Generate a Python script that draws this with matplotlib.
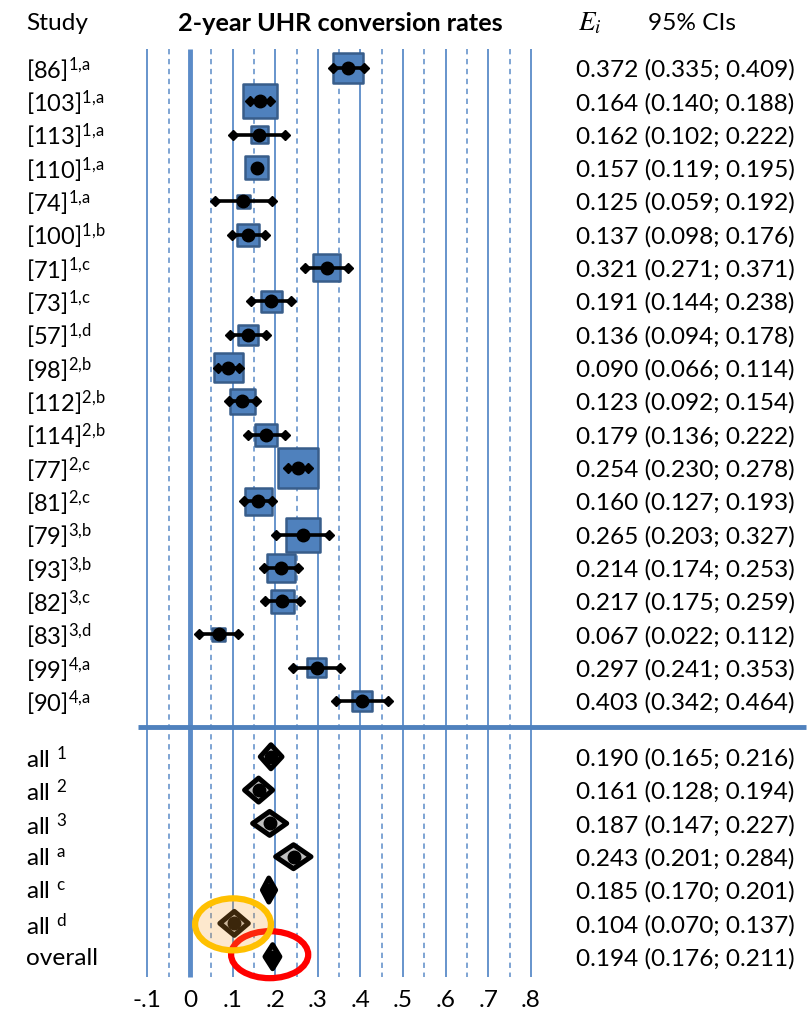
import matplotlib
matplotlib.use("Agg")
import matplotlib.pyplot as plt
from matplotlib.patches import Ellipse, Polygon

plt.rcParams['font.family'] = ['Lato', 'DejaVu Sans']
plt.rcParams['mathtext.fontset'] = 'custom'
plt.rcParams['mathtext.rm'] = 'Lato'
plt.rcParams['mathtext.it'] = 'Lato:italic'
plt.rcParams['mathtext.bf'] = 'Lato:bold'

# ---- individual studies ----
studies = ["[86]", "[103]", "[113]", "[110]", "[74]", "[100]", "[71]", "[73]", "[57]",
           "[98]", "[112]", "[114]", "[77]", "[81]", "[79]", "[93]", "[82]", "[83]",
           "[99]", "[90]"]
study_sup = ["1,a", "1,a", "1,a", "1,a", "1,a", "1,b", "1,c", "1,c", "1,d",
             "2,b", "2,b", "2,b", "2,c", "2,c", "3,b", "3,b", "3,c", "3,d",
             "4,a", "4,a"]
est = [0.372, 0.164, 0.162, 0.157, 0.125, 0.137, 0.321, 0.191, 0.136,
       0.090, 0.123, 0.179, 0.254, 0.160, 0.265, 0.214, 0.217, 0.067,
       0.297, 0.403]
ci_lo = [0.335, 0.140, 0.102, 0.119, 0.059, 0.098, 0.271, 0.144, 0.094,
         0.066, 0.092, 0.136, 0.230, 0.127, 0.203, 0.174, 0.175, 0.022,
         0.241, 0.342]
ci_hi = [0.409, 0.188, 0.222, 0.195, 0.192, 0.176, 0.371, 0.238, 0.178,
         0.114, 0.154, 0.222, 0.278, 0.193, 0.327, 0.253, 0.259, 0.112,
         0.353, 0.464]
# relative study weights (box side)
weight = [30, 34, 17, 23, 13, 22, 27, 21, 20, 29, 25, 22, 40, 27, 34, 28, 23, 13, 19, 20]
# studies whose interval whiskers are drawn
whiskers = [True, True, True, False, True, True, True, True, True, True,
            True, True, True, True, True, True, True, True, True, True]

# ---- pooled estimates ----
pooled_labels = ["all", "all", "all", "all", "all", "all", "overall"]
pooled_sup = ["1", "2", "3", "a", "c", "d", ""]
pooled_est = [0.190, 0.161, 0.187, 0.243, 0.185, 0.104, 0.194]
pooled_lo = [0.165, 0.128, 0.147, 0.201, 0.170, 0.070, 0.176]
pooled_hi = [0.216, 0.194, 0.227, 0.284, 0.201, 0.137, 0.211]

tick_values = [-0.1, 0, 0.1, 0.2, 0.3, 0.4, 0.5, 0.6, 0.7, 0.8]
tick_labels = ["-.1", "0", ".1", ".2", ".3", ".4", ".5", ".6", ".7", ".8"]
half_ticks = [-0.05, 0.05, 0.15, 0.25, 0.35, 0.45, 0.55, 0.65, 0.75]

BLUE = "#4F81BD"
BLUE_DARK = "#385D8A"
GRID = "#5B8BC8"

fig = plt.figure(figsize=(8.1, 10.12), dpi=100)
ax = fig.add_axes([0, 0, 1, 1])
ax.set_xlim(-190 / 426, (810 - 190) / 426)
ax.set_ylim(28.30, -2.071)
ax.axis("off")

n = len(studies)
rows = list(range(n))
prow = [20.67 + j for j in range(len(pooled_est))]
grid_top, grid_bot = -0.57, 27.28

# reference lines
for v in tick_values:
    lw = 3.5 if v == 0 else 1.3
    ax.plot([v, v], [grid_top, grid_bot], color=GRID, lw=lw, zorder=1,
            solid_capstyle="butt")
for v in half_ticks:
    ax.plot([v, v], [grid_top, grid_bot], color=GRID, lw=1.1, zorder=1,
            linestyle=(0, (3.5, 3)))
# separator between studies and pooled rows
ax.plot([(138 - 190) / 426, (806 - 190) / 426], [19.78, 19.78], color=BLUE,
        lw=3.5, zorder=1, solid_capstyle="butt")

# study boxes, whiskers and point estimates
ax.scatter(est, rows, marker="s", s=[(w * 0.72) ** 2 for w in weight],
           facecolor=BLUE, edgecolor=BLUE_DARK, linewidth=1.8, zorder=3)
for i in range(n):
    if whiskers[i]:
        ax.plot([ci_lo[i], ci_hi[i]], [rows[i], rows[i]], color="black", lw=2.6,
                zorder=4, solid_capstyle="butt")
        ax.plot([ci_lo[i], ci_hi[i]], [rows[i], rows[i]], linestyle="none",
                marker="D", ms=4.6, color="black", zorder=4)
ax.plot(est, rows, linestyle="none", marker="o", ms=9, color="black", zorder=5)

# pooled diamonds
dh = 0.36
for j in range(len(pooled_est)):
    y = prow[j]
    dia = Polygon([(pooled_lo[j], y), (pooled_est[j], y - dh), (pooled_hi[j], y),
                   (pooled_est[j], y + dh)], closed=True, facecolor="#BFBFBF",
                  edgecolor="black", linewidth=3.6, joinstyle="round", zorder=3)
    ax.add_patch(dia)
ax.plot(pooled_est, prow, linestyle="none", marker="o", ms=9, color="black", zorder=5)

# highlight rings
ax.add_patch(Ellipse((pooled_est[6] - 0.007, prow[6] - 0.06), 0.181, 1.41, fill=False,
                     edgecolor="#FF0000", linewidth=4.5, zorder=6))
ax.add_patch(Ellipse((pooled_est[5] - 0.003, prow[5] + 0.03), 0.178, 1.56,
                     facecolor="#F8A030", alpha=0.24, edgecolor="none", zorder=7))
ax.add_patch(Ellipse((pooled_est[5] - 0.003, prow[5] + 0.03), 0.178, 1.56, fill=False,
                     edgecolor="#FFC000", linewidth=4.5, zorder=7))

# text columns
fs = 17.6
label_x = 26 / 810
val_x = 576 / 810
tr = ax.get_yaxis_transform()  # x in axes fraction, y in data rows


def sup_text(s):
    return r"$^{\mathrm{" + s.replace(",", "{,}") + "}}$"


for i in range(n):
    ax.text(label_x, rows[i] + 0.03, studies[i] + sup_text(study_sup[i]),
            transform=tr, ha="left", va="center", fontsize=fs - 0.6)
    ax.text(val_x, rows[i] + 0.03, f"{est[i]:.3f} ({ci_lo[i]:.3f}; {ci_hi[i]:.3f})",
            transform=tr, ha="left", va="center", fontsize=fs)
for j in range(len(pooled_est)):
    lab = pooled_labels[j]
    if pooled_sup[j]:
        lab = lab + " " + sup_text(pooled_sup[j])
    ax.text(label_x, prow[j] + 0.03, lab, transform=tr, ha="left", va="center",
            fontsize=fs)
    ax.text(val_x, prow[j] + 0.03,
            f"{pooled_est[j]:.3f} ({pooled_lo[j]:.3f}; {pooled_hi[j]:.3f})",
            transform=tr, ha="left", va="center", fontsize=fs)

# header
hy = -1.36
ax.text(label_x, hy, "Study", transform=tr, ha="left", va="center", fontsize=fs)
ax.text(340 / 810, hy, "2-year UHR conversion rates", transform=tr, ha="center",
        va="center", fontsize=18.2, fontweight="bold")
ax.text(578 / 810, hy, r"$E_i$", transform=tr, ha="left", va="center", fontsize=fs + 2,
        math_fontfamily="stix")
ax.text(648 / 810, hy, "95% CIs", transform=tr, ha="left", va="center", fontsize=fs)

# axis tick labels
for v, t in zip(tick_values, tick_labels):
    ax.text(v, 27.94, t, ha="center", va="center", fontsize=fs)

fig.savefig("out.png", dpi=100)
